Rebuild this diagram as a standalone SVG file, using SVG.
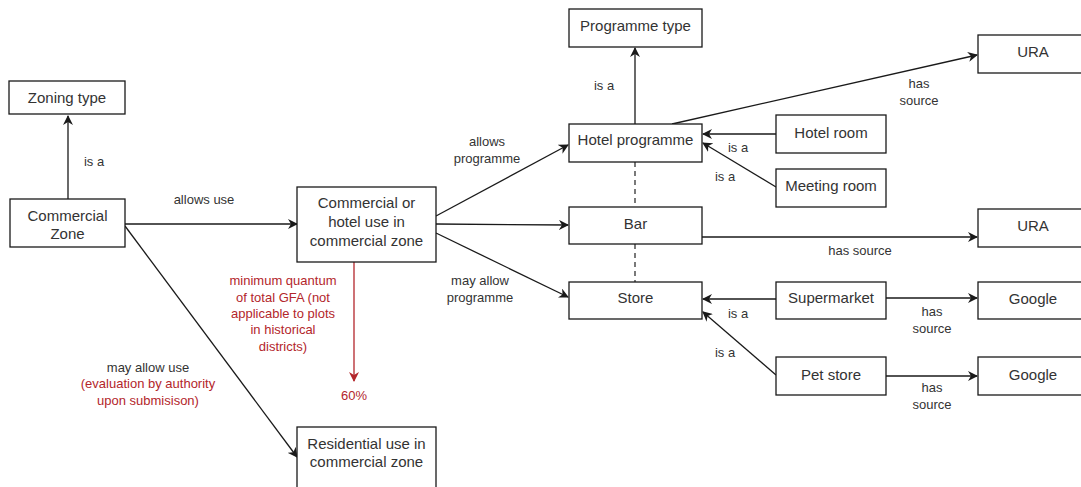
<svg xmlns="http://www.w3.org/2000/svg" width="1081" height="487" viewBox="0 0 1081 487">
<style>
.box{fill:#fff;stroke:#1a1a1a;stroke-width:1.3}
.nt{font-family:"Liberation Sans",Arial,sans-serif;font-size:15px;fill:#333;text-anchor:middle}
.et{font-family:"Liberation Sans",Arial,sans-serif;font-size:13px;fill:#333;text-anchor:middle}
.rt{font-family:"Liberation Sans",Arial,sans-serif;font-size:13px;fill:#b3262b;text-anchor:middle}
.ln{fill:none;stroke:#1a1a1a;stroke-width:1.3}
.arr{marker-end:url(#ah)}
.dash{fill:none;stroke:#333;stroke-width:1.3;stroke-dasharray:5 4}
.red{fill:none;stroke:#b3262b;stroke-width:1.3;marker-end:url(#ahr)}
</style>
<defs>
<marker id="ah" viewBox="0 0 10 10" refX="9" refY="5" markerWidth="10" markerHeight="10" markerUnits="userSpaceOnUse" orient="auto">
<path d="M0,0 L10,5 L0,10 L3,5 z" fill="#1a1a1a"/>
</marker>
<marker id="ahr" viewBox="0 0 10 10" refX="9" refY="5" markerWidth="10" markerHeight="10" markerUnits="userSpaceOnUse" orient="auto">
<path d="M0,0 L10,5 L0,10 L3,5 z" fill="#b3262b"/>
</marker>
</defs>
<rect width="1081" height="487" fill="#fff"/>
<g id="connectors">
<path class="ln arr" d="M68,199 L68,116"/>
<path class="ln arr" d="M125,224 L297,224"/>
<path class="ln arr" d="M125,226 L297,457"/>
<path class="red" d="M354,262 L354,381"/>
<path class="ln arr" d="M436,216 L568,145"/>
<path class="ln arr" d="M436,224 L568,225"/>
<path class="ln arr" d="M436,233 L568,297"/>
<path class="ln arr" d="M635,124 L635,48"/>
<path class="dash" d="M635,162 L635,207"/>
<path class="dash" d="M635,244 L635,282"/>
<path class="ln arr" d="M672,124 L977,55"/>
<path class="ln arr" d="M776,134 L703,134"/>
<path class="ln arr" d="M776,187 L703,143"/>
<path class="ln arr" d="M702,237 L977,237"/>
<path class="ln arr" d="M776,299 L703,299"/>
<path class="ln arr" d="M776,375 L703,312"/>
<path class="ln arr" d="M886,298 L977,298"/>
<path class="ln arr" d="M886,376 L977,376"/>
<text class="et" x="94" y="166">is a</text>
<text class="et" x="204" y="204">allows use</text>
<text class="et" x="148" y="372">may allow use</text>
<text class="rt" x="148" y="388">(evaluation by authority</text>
<text class="rt" x="148" y="405">upon submisison)</text>
<text class="rt" x="283" y="285">minimum quantum</text>
<text class="rt" x="283" y="302">of total GFA (not</text>
<text class="rt" x="283" y="318">applicable to plots</text>
<text class="rt" x="283" y="334">in historical</text>
<text class="rt" x="283" y="351">districts)</text>
<text class="rt" x="354" y="400">60%</text>
<text class="et" x="487" y="146">allows</text>
<text class="et" x="487" y="163">programme</text>
<text class="et" x="480" y="285">may allow</text>
<text class="et" x="480" y="302">programme</text>
<text class="et" x="604" y="90">is a</text>
<text class="et" x="919" y="88">has</text>
<text class="et" x="919" y="105">source</text>
<text class="et" x="738" y="152">is a</text>
<text class="et" x="725" y="181">is a</text>
<text class="et" x="860" y="255">has source</text>
<text class="et" x="738" y="318">is a</text>
<text class="et" x="725" y="357">is a</text>
<text class="et" x="932" y="316">has</text>
<text class="et" x="932" y="333">source</text>
<text class="et" x="932" y="392">has</text>
<text class="et" x="932" y="409">source</text>
</g>
<g id="zoning-type"><rect class="box" x="9" y="81" width="116" height="33"/><text class="nt" x="67" y="103">Zoning type</text></g>
<g id="commercial-zone"><rect class="box" x="10" y="199" width="115" height="48"/><text class="nt" x="67.5" y="221">Commercial</text><text class="nt" x="67.5" y="239">Zone</text></g>
<g id="commercial-hotel-use"><rect class="box" x="297" y="187" width="139" height="75"/><text class="nt" x="366.5" y="208">Commercial or</text><text class="nt" x="366.5" y="227">hotel use in</text><text class="nt" x="366.5" y="246">commercial zone</text></g>
<g id="residential-use"><rect class="box" x="297" y="427" width="139" height="70"/><text class="nt" x="366.5" y="449">Residential use in</text><text class="nt" x="366.5" y="467">commercial zone</text></g>
<g id="programme-type"><rect class="box" x="569" y="9" width="133" height="38"/><text class="nt" x="635.5" y="31">Programme type</text></g>
<g id="hotel-programme"><rect class="box" x="569" y="124" width="133" height="38"/><text class="nt" x="635.5" y="145">Hotel programme</text></g>
<g id="bar"><rect class="box" x="569" y="207" width="133" height="37"/><text class="nt" x="635.5" y="229">Bar</text></g>
<g id="store"><rect class="box" x="569" y="282" width="133" height="37"/><text class="nt" x="635.5" y="303">Store</text></g>
<g id="hotel-room"><rect class="box" x="776" y="115" width="110" height="38"/><text class="nt" x="831" y="138">Hotel room</text></g>
<g id="meeting-room"><rect class="box" x="776" y="169" width="110" height="38"/><text class="nt" x="831" y="191">Meeting room</text></g>
<g id="supermarket"><rect class="box" x="776" y="282" width="110" height="37"/><text class="nt" x="831" y="303">Supermarket</text></g>
<g id="pet-store"><rect class="box" x="776" y="357" width="110" height="38"/><text class="nt" x="831" y="380">Pet store</text></g>
<g id="ura-1"><rect class="box" x="978" y="35" width="110" height="38"/><text class="nt" x="1033" y="57">URA</text></g>
<g id="ura-2"><rect class="box" x="978" y="209" width="110" height="38"/><text class="nt" x="1033" y="231">URA</text></g>
<g id="google-1"><rect class="box" x="978" y="282" width="110" height="37"/><text class="nt" x="1033" y="304">Google</text></g>
<g id="google-2"><rect class="box" x="978" y="357" width="110" height="38"/><text class="nt" x="1033" y="380">Google</text></g>
</svg>
